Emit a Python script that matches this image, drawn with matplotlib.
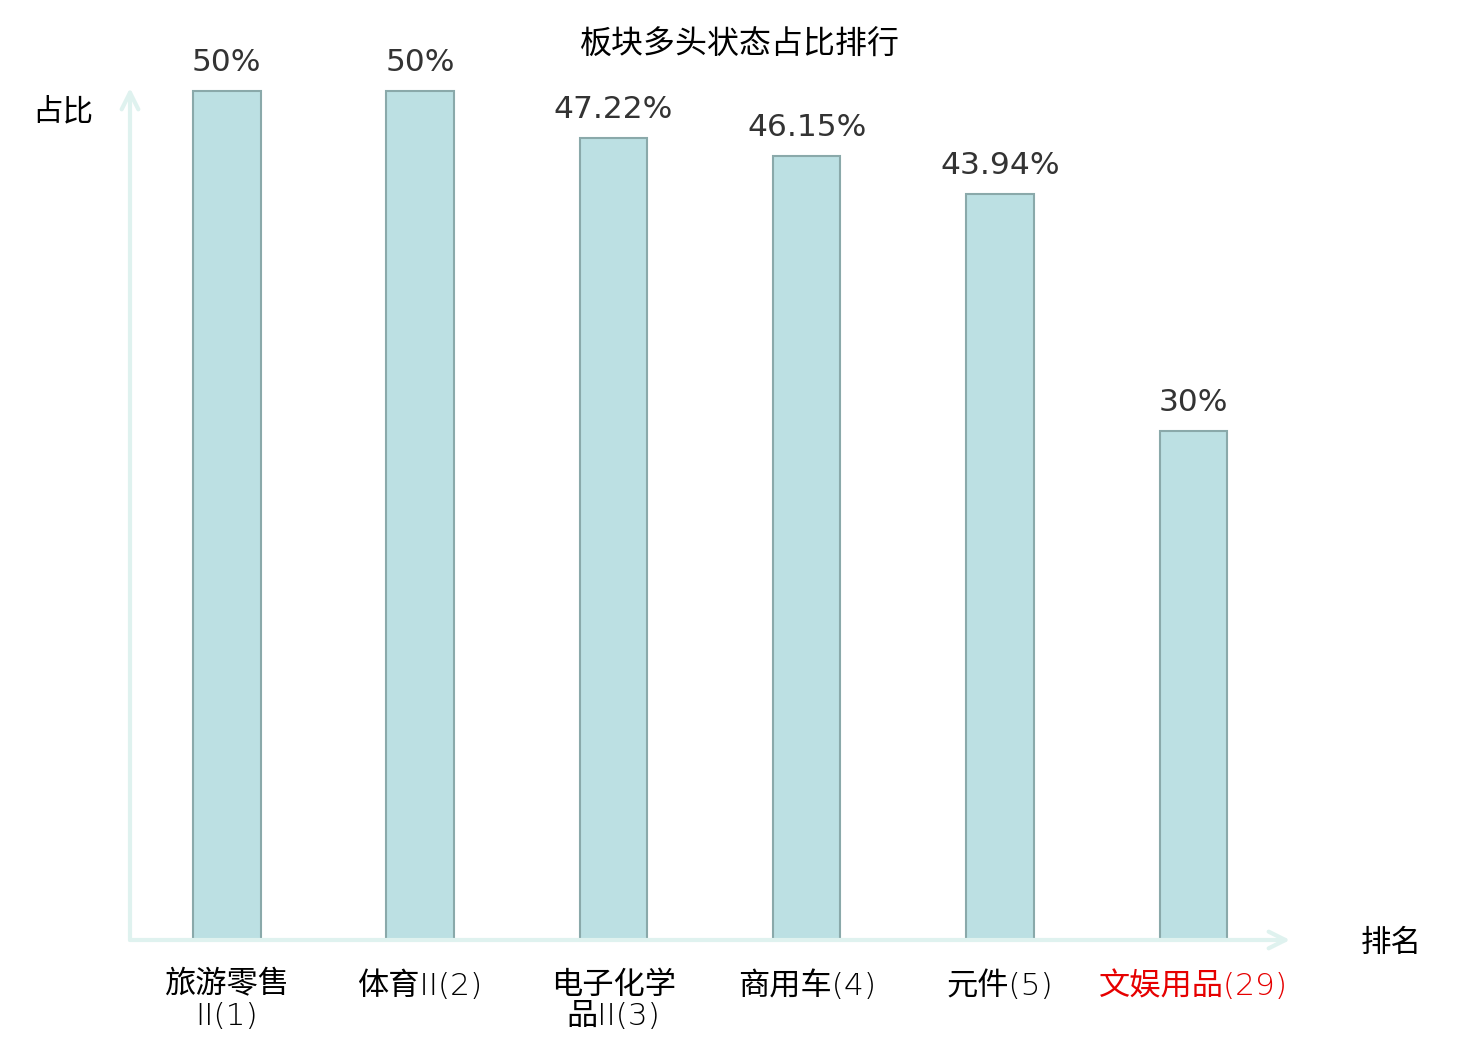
import numpy as np
import matplotlib.pyplot as plt

plt.rcParams['font.family'] = ['Noto Sans CJK SC', 'DejaVu Sans']

# data
sectors = ['旅游零售\nII(1)', '体育II(2)', '电子化学\n品II(3)', '商用车(4)', '元件(5)', '文娱用品(29)']
ratios = [50, 50, 47.22, 46.15, 43.94, 30]
highlight = [False, False, False, False, False, True]

bar_color = '#bce0e3'
edge_color = '#8aa9aa'
axis_color = '#dff2ef'

fig = plt.figure(figsize=(14.8, 10.4), dpi=100)
ax = fig.add_axes([130 / 1480, 100 / 1040, 1160 / 1480, 852 / 1040])

x = np.arange(len(sectors))
bars = ax.bar(x, ratios, width=0.35, color=bar_color, edgecolor=edge_color, linewidth=1.5)

ax.set_xlim(-0.5, len(sectors) - 0.5)
ax.set_ylim(0, 50.17)

# value labels on top of bars
for b, v in zip(bars, ratios):
    ax.annotate(f'{v:g}%', (b.get_x() + b.get_width() / 2, v), xytext=(0, 10),
                textcoords='offset points', ha='center', va='bottom',
                fontsize=22.5, color='#333333', family='DejaVu Sans')

# hide default spines/ticks, draw arrow axes
for s in ax.spines.values():
    s.set_visible(False)
ax.set_yticks([])
ax.set_xticks(x)
ax.set_xticklabels(sectors, fontsize=22.5, linespacing=1.1,
                   family=['DejaVu Sans', 'Noto Sans CJK SC'], fontweight='light')
ax.tick_params(axis='x', length=0, pad=22)
for lbl, hl in zip(ax.get_xticklabels(), highlight):
    if hl:
        lbl.set_color('#e60000')

arrow = dict(arrowstyle='->', color=axis_color, lw=3, mutation_scale=30, shrinkA=0, shrinkB=0)
ax.annotate('', xy=(1, 0), xytext=(0, 0), xycoords='axes fraction', arrowprops=arrow)
ax.annotate('', xy=(0, 1), xytext=(0, 0), xycoords='axes fraction', arrowprops=arrow)

fig.text(63 / 1480, 1 - 112 / 1040, '占比', fontsize=22, ha='center', va='center')
fig.text(1391 / 1480, 1 - 943 / 1040, '排名', fontsize=22, ha='center', va='center')
fig.text(740 / 1480, 1 - 45 / 1040, '板块多头状态占比排行', fontsize=23, ha='center', va='center')

fig.savefig('out.png', dpi=100)
